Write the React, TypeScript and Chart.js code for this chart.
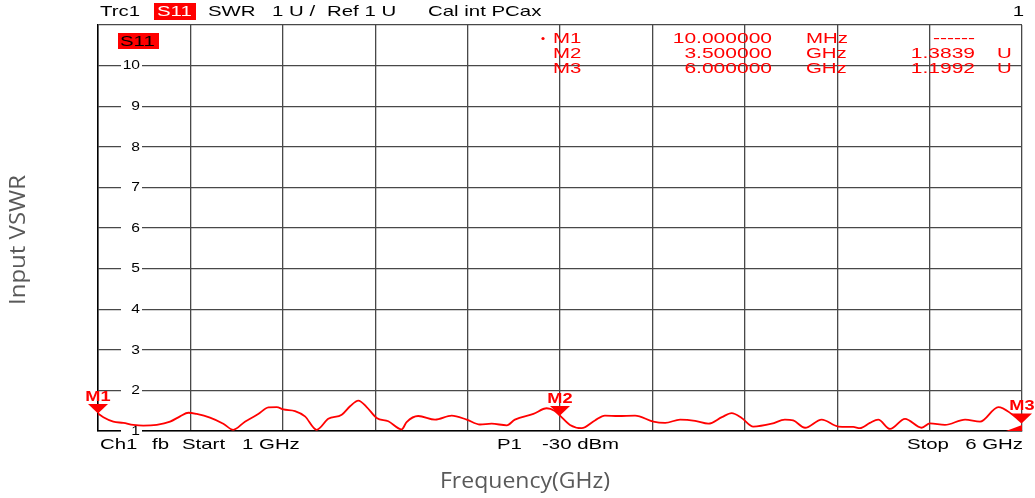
import React, { useEffect, useRef } from "react";
import { Chart, registerables } from "chart.js";

Chart.register(...registerables);

const freqGHz = [1.000, 1.029, 1.083, 1.137, 1.191, 1.245, 1.318, 1.390, 1.444, 1.489,
  1.534, 1.606, 1.678, 1.732, 1.795, 1.823, 1.867, 1.922, 1.967, 2.003,
  2.066, 2.120, 2.183, 2.246, 2.319, 2.364, 2.409, 2.454, 2.508, 2.571,
  2.643, 2.670, 2.733, 2.824, 2.914, 2.995, 3.067, 3.130, 3.212, 3.256,
  3.356, 3.428, 3.470, 3.500, 3.554, 3.617, 3.689, 3.743, 3.815, 3.906,
  4.005, 4.069, 4.150, 4.231, 4.303, 4.376, 4.429, 4.483, 4.546, 4.646,
  4.717, 4.762, 4.826, 4.916, 5.006, 5.087, 5.123, 5.177, 5.222, 5.286,
  5.367, 5.457, 5.502, 5.583, 5.692, 5.773, 5.872, 5.944, 6.000];

const vswr = [1.43, 1.34, 1.23, 1.20, 1.15, 1.13, 1.15, 1.23, 1.36, 1.45,
  1.42, 1.33, 1.18, 1.03, 1.23, 1.30, 1.42, 1.58, 1.59, 1.53,
  1.49, 1.36, 1.03, 1.30, 1.40, 1.61, 1.75, 1.59, 1.32, 1.24,
  1.04, 1.22, 1.37, 1.28, 1.38, 1.28, 1.16, 1.18, 1.14, 1.28,
  1.42, 1.56, 1.50, 1.38, 1.15, 1.07, 1.26, 1.38, 1.37, 1.38,
  1.23, 1.20, 1.28, 1.25, 1.18, 1.34, 1.44, 1.32, 1.11, 1.18,
  1.28, 1.26, 1.08, 1.28, 1.11, 1.10, 1.07, 1.20, 1.28, 1.05,
  1.30, 1.08, 1.19, 1.15, 1.28, 1.23, 1.59, 1.42, 1.20];

const yTickLabels = ["1", "2", "3", "4", "5", "6", "7", "8", "9", "10"];
const yTickValues = [1, 2, 3, 4, 5, 6, 7, 8, 9, 10];

const markerNames = ["M1", "M2", "M3"];
const markerPlotFreq = [1.0, 3.5, 6.0];
const markerPlotVswr = [1.43, 1.3839, 1.1992];

const tableStim = ["10.000000", "3.500000", "6.000000"];
const tableUnit = ["MHz", "GHz", "GHz"];
const tableValue = ["------", "1.3839", "1.1992"];
const tableValueUnit = ["", "U", "U"];

const xTitle = "Frequency(GHz)";
const yTitle = "Input VSWR";

const RED = "#ff0000";
const FONT = "'Liberation Sans', Arial, sans-serif";

function drawStretched(ctx: CanvasRenderingContext2D, text: string, x: number, y: number,
  align: "left" | "right" | "center", sx: number) {
  const w = ctx.measureText(text).width * sx;
  let left = x;
  if (align === "right") left = x - w;
  else if (align === "center") left = x - w / 2;
  ctx.save();
  ctx.translate(left, y);
  ctx.scale(sx, 1);
  ctx.textAlign = "left";
  ctx.fillText(text, 0, 0);
  ctx.restore();
  return w;
}

const vnaPlugin = {
  id: "vnaDecor",
  beforeDatasetsDraw(chart: any) {
    const ctx: CanvasRenderingContext2D = chart.ctx;
    const y = chart.scales.y;
    ctx.save();
    ctx.font = `12px ${FONT}`;
    ctx.textBaseline = "middle";
    yTickValues.forEach((v, i) => {
      const py = y.getPixelForValue(v);
      ctx.fillStyle = "#ffffff";
      ctx.fillRect(121, py - 3, 21, 6);
      ctx.fillStyle = "#000000";
      drawStretched(ctx, yTickLabels[i], 140, py + 0.5, "right", 1.3);
    });
    ctx.restore();
  },
  afterDraw(chart: any) {
    const ctx: CanvasRenderingContext2D = chart.ctx;
    const xs = chart.scales.x;
    const ys = chart.scales.y;
    ctx.save();
    ctx.textBaseline = "middle";

    // header
    ctx.font = `15px ${FONT}`;
    ctx.fillStyle = "#000";
    const sx = 1.36;
    drawStretched(ctx, "Trc1", 100, 12, "left", sx);
    ctx.fillStyle = RED;
    ctx.fillRect(154, 3, 42, 17);
    ctx.fillStyle = "#fff";
    drawStretched(ctx, "S11", 157, 12, "left", sx);
    ctx.fillStyle = "#000";
    drawStretched(ctx, "SWR", 208, 12, "left", sx);
    drawStretched(ctx, "1 U /", 272, 12, "left", sx);
    drawStretched(ctx, "Ref 1 U", 327, 12, "left", sx);
    drawStretched(ctx, "Cal int PCax", 428, 12, "left", sx);
    drawStretched(ctx, "1", 1024, 12, "right", sx);

    // S11 trace label box
    ctx.fillStyle = RED;
    ctx.fillRect(118, 33, 41, 16);
    ctx.fillStyle = "#000";
    drawStretched(ctx, "S11", 120, 42, "left", sx);

    // marker table
    ctx.fillStyle = RED;
    const rowY = [38.5, 54, 69];
    ctx.beginPath();
    ctx.arc(543, 38.5, 1.6, 0, Math.PI * 2);
    ctx.fill();
    markerNames.forEach((m, i) => {
      drawStretched(ctx, m, 553, rowY[i], "left", sx);
      drawStretched(ctx, tableStim[i], 772, rowY[i], "right", 1.4);
      drawStretched(ctx, tableUnit[i], 806, rowY[i], "left", sx);
      drawStretched(ctx, tableValue[i], 975, rowY[i], "right", 1.4);
      if (tableValueUnit[i]) drawStretched(ctx, tableValueUnit[i], 997, rowY[i], "left", sx);
    });

    // footer
    ctx.fillStyle = "#000";
    const fy = 445;
    drawStretched(ctx, "Ch1", 100, fy, "left", sx);
    drawStretched(ctx, "fb", 152, fy, "left", sx);
    drawStretched(ctx, "Start", 182, fy, "left", sx);
    drawStretched(ctx, "1 GHz", 242, fy, "left", sx);
    drawStretched(ctx, "P1", 497, fy, "left", sx);
    drawStretched(ctx, "-30 dBm", 542, fy, "left", sx);
    drawStretched(ctx, "Stop", 907, fy, "left", sx);
    drawStretched(ctx, "6 GHz", 1023, fy, "right", sx);

    // markers
    ctx.fillStyle = RED;
    ctx.font = `bold 14px ${FONT}`;
    markerNames.forEach((m, i) => {
      const px = xs.getPixelForValue(markerPlotFreq[i]);
      const py = ys.getPixelForValue(markerPlotVswr[i]);
      ctx.beginPath();
      ctx.moveTo(px - 10, py - 9.5);
      ctx.lineTo(px + 10, py - 9.5);
      ctx.lineTo(px, py);
      ctx.closePath();
      ctx.fill();
      drawStretched(ctx, m, px, py - 16.5, "center", 1.3);
    });
    // stimulus marker at bottom right
    const bx = xs.getPixelForValue(6);
    const by = ys.getPixelForValue(1);
    ctx.beginPath();
    ctx.moveTo(bx - 16, by);
    ctx.lineTo(bx, by);
    ctx.lineTo(bx, by - 6);
    ctx.closePath();
    ctx.fill();

    // axis titles
    ctx.fillStyle = "#595959";
    ctx.font = `21px 'Open Sans', sans-serif`;
    const wx = ctx.measureText(xTitle).width;
    drawStretched(ctx, xTitle, 525, 482, "center", 170 / wx);
    const wy = ctx.measureText(yTitle).width;
    ctx.save();
    ctx.translate(19, 240);
    ctx.rotate(-Math.PI / 2);
    drawStretched(ctx, yTitle, 0, 0, "center", 130 / wy);
    ctx.restore();

    ctx.restore();
  },
};

export default function App() {
  const ref = useRef<HTMLCanvasElement | null>(null);
  useEffect(() => {
    document.body.style.margin = "0";
    const canvas = ref.current!;
    const chart = new Chart(canvas, {
      type: "line",
      data: {
        datasets: [{
          data: freqGHz.map((f, i) => ({ x: f, y: vswr[i] })),
          borderColor: RED,
          borderWidth: 1.8,
          pointRadius: 0,
          cubicInterpolationMode: "monotone",
          fill: false,
        }],
      },
      options: {
        responsive: false,
        animation: false,
        devicePixelRatio: 1,
        layout: { padding: { left: 98, right: 13, top: 25, bottom: 67 } },
        plugins: { legend: { display: false }, tooltip: { enabled: false } },
        scales: {
          x: {
            type: "linear", min: 1, max: 6,
            ticks: { display: false, stepSize: 0.5 },
            grid: { color: "#484848", lineWidth: 1.3, drawTicks: false },
            border: { display: true, color: "#000", width: 1.5 },
          },
          y: {
            type: "linear", min: 1, max: 11,
            ticks: { display: false, stepSize: 1 },
            grid: { color: "#484848", lineWidth: 1.3, drawTicks: false },
            border: { display: true, color: "#000", width: 1.5 },
          },
        },
      },
      plugins: [vnaPlugin],
    });
    return () => chart.destroy();
  }, []);
  return (
    <div style={{ position: "fixed", left: 0, top: 0, width: 1035, height: 498, background: "#fff" }}>
      <canvas ref={ref} width={1035} height={498} style={{ width: 1035, height: 498, display: "block" }} />
    </div>
  );
}
